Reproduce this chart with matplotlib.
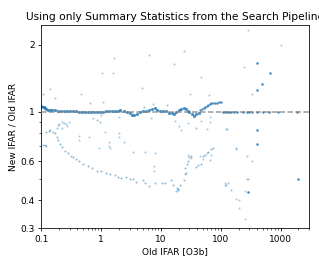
import matplotlib
matplotlib.use("Agg")
import matplotlib.pyplot as plt
from matplotlib.ticker import NullFormatter, FixedLocator, FixedFormatter

# dense main track near ratio 1
main_x = [0.10, 0.105, 0.11, 0.115, 0.12, 0.13, 0.14, 0.15, 0.17, 0.19, 0.21, 0.24, 0.27, 0.30, 0.34,
          0.38, 0.43, 0.48, 0.54, 0.60, 0.68, 0.76, 0.85, 0.95, 1.07, 1.2, 1.35, 1.5, 1.7,
          1.9, 2.1, 2.4, 2.7, 3.0, 3.3, 3.6, 4.0, 4.5, 5.0, 5.6, 6.3, 7.0, 7.8, 8.7, 9.7,
          11, 12, 13.5, 15, 16.5, 18, 20, 22, 24, 26, 28, 30, 33, 36, 39, 43]
main_y = [1.065, 1.055, 1.045, 1.035, 1.03, 1.022, 1.018, 1.016, 1.014, 1.012, 1.01, 1.008, 1.012, 1.01, 1.005,
          1.003, 1.0, 1.002, 1.0, 1.0, 0.998, 1.0, 1.0, 0.997, 1.0, 1.005, 1.01, 1.008, 1.003,
          1.008, 1.018, 1.01, 1.0, 0.985, 0.97, 0.965, 0.975, 0.995, 1.005, 1.01, 1.02, 1.03, 1.035, 1.02, 1.01,
          1.012, 1.005, 0.99, 0.985, 0.982, 0.995, 1.02, 1.03, 1.035, 1.025, 1.005, 0.995, 0.98, 0.96, 0.975, 0.99]

# rising branch beyond ~45
branch_x = [45, 48, 52, 55, 58, 62, 66, 70, 75, 80, 88, 95, 100]
branch_y = [1.02, 1.03, 1.04, 1.05, 1.06, 1.07, 1.08, 1.09, 1.09, 1.10, 1.10, 1.11, 1.11]

# sparse tail exactly at 1
tail_x = [110, 118, 125, 135, 150, 165, 190, 240, 270, 300, 330, 400, 500, 650, 900, 1900]
tail_y = [1.0] * len(tail_x)

# darker isolated points
dark_x = [400, 658, 495, 400, 400, 400, 1990, 283]
dark_y = [1.66, 1.49, 1.33, 1.25, 0.83, 0.714, 0.50, 0.436]

# lower curved track
low_x = [0.105, 0.114, 0.12, 0.12, 0.134, 0.14, 0.157, 0.167, 0.18, 0.19, 0.205, 0.224, 0.25, 0.278, 0.31,
         0.34, 0.385, 0.43, 0.5, 0.6, 0.7, 0.85, 1.0, 1.22, 1.4, 1.68, 1.9, 2.17, 2.6, 3.0, 3.4, 3.86,
         4.97, 5.5, 6.4, 7.8, 10.2, 11.5, 14.8, 16, 18.4, 19.5, 19.1, 18.1, 20.5, 24, 25, 26, 25, 27,
         28, 30, 32, 38, 42, 47, 50, 55, 62, 68, 75]
low_y = [0.71, 0.71, 0.70, 0.81, 0.82, 0.83, 0.81, 0.80, 0.77, 0.746, 0.72, 0.693, 0.67, 0.65, 0.635,
         0.625, 0.614, 0.60, 0.585, 0.571, 0.56, 0.545, 0.54, 0.529, 0.525, 0.52, 0.51, 0.503, 0.508, 0.50, 0.497, 0.486,
         0.494, 0.48, 0.465, 0.477, 0.48, 0.48, 0.494, 0.47, 0.456, 0.45, 0.447, 0.443, 0.467, 0.494, 0.524, 0.53, 0.557, 0.58,
         0.60, 0.625, 0.635, 0.565, 0.575, 0.58, 0.635, 0.64, 0.66, 0.68, 0.687]

# scattered outliers
sc_x = [0.105, 0.141, 0.167, 0.46, 1.03, 1.6, 1.62, 6.2, 16.5, 24, 46, 4.9, 31, 63, 282, 1000, 248, 329,
        0.64, 1.09, 0.2, 0.22, 0.24, 0.26, 0.29, 0.19, 0.27, 0.22, 0.18, 0.42, 0.42, 0.62, 0.72, 0.85,
        0.94, 1.0, 1.17, 0.92, 1.38, 1.35, 1.37, 2.0, 1.97, 2.4, 2.0, 3.4, 5.4, 7.8, 7.5, 7.5, 7.3,
        6.9, 12.6, 5.2, 17.3, 20, 22, 28, 38, 47, 58, 67, 67, 124, 126, 182, 180, 279, 329, 279, 283,
        116, 124, 132, 120, 150, 182, 199, 199, 250, 250, 28, 32, 45, 50, 60, 65, 70]
sc_y = [1.2, 1.27, 1.155, 1.2, 1.49, 1.5, 1.75, 1.79, 1.64, 1.88, 1.43, 1.28, 1.2, 1.19, 2.33, 1.99, 1.59, 1.2,
        1.10, 1.11, 0.88, 0.9, 0.89, 0.88, 0.9, 0.87, 0.86, 0.845, 0.845, 0.78, 0.75, 0.77, 0.935, 0.92,
        0.90, 0.967, 0.81, 0.69, 0.687, 0.70, 0.73, 0.95, 0.77, 0.73, 0.805, 0.66, 0.66, 0.65, 0.57, 0.54, 1.08,
        0.934, 1.07, 1.05, 0.91, 0.86, 0.83, 0.887, 0.848, 0.91, 0.84, 0.946, 0.90, 0.84, 0.839, 0.685, 0.683, 0.635, 0.60, 0.50, 0.50,
        0.48, 0.47, 0.48, 0.47, 0.445, 0.406, 0.40, 0.37, 0.443, 0.33, 0.64, 0.62, 0.63, 0.615, 0.65, 0.61, 0.64]

y_ticks = [0.3, 0.4, 0.6, 1, 2]
y_tick_labels = ["0.3", "0.4", "0.6", "1", "2"]
x_ticks = [0.1, 1, 10, 100, 1000]
x_tick_labels = ["0.1", "1", "10", "100", "1000"]

fig = plt.figure(figsize=(319 / 72, 266 / 72), dpi=72)
ax = fig.add_axes([0.130, 0.1417, 0.8387, 0.7643])

c = "C0"
ax.scatter(sc_x, sc_y, s=4, color=c, alpha=0.4, linewidths=0)
ax.scatter(low_x, low_y, s=4, color=c, alpha=0.5, linewidths=0)
ax.scatter(main_x, main_y, s=10, color=c, alpha=0.8, linewidths=0)
ax.scatter(branch_x, branch_y, s=6, color=c, alpha=0.8, linewidths=0)
ax.scatter(tail_x, tail_y, s=6, color=c, alpha=0.9, linewidths=0)
ax.scatter(dark_x, dark_y, s=6, color=c, alpha=0.9, linewidths=0)
ax.axhline(1, color="gray", ls="--", lw=1.5, alpha=0.8, zorder=3)

ax.set_xscale("log")
ax.set_yscale("log")
ax.set_xlim(0.1, 3000)
ax.set_ylim(0.3, 2.45)
ax.set_xticks(x_ticks)
ax.set_xticklabels(x_tick_labels)
ax.yaxis.set_major_locator(FixedLocator(y_ticks))
ax.yaxis.set_major_formatter(FixedFormatter(y_tick_labels))
ax.yaxis.set_minor_formatter(NullFormatter())
ax.tick_params(axis="both", which="major", labelsize=9, length=3)
ax.tick_params(axis="both", which="minor", length=1.8)
ax.set_xlabel("Old IFAR [O3b]", fontsize=9, labelpad=3)
ax.set_ylabel("New IFAR / Old IFAR", fontsize=9, labelpad=3)
ax.set_title("Using only Summary Statistics from the Search Pipeline", fontsize=10.6, pad=5)

fig.savefig("out.png", dpi=72)
